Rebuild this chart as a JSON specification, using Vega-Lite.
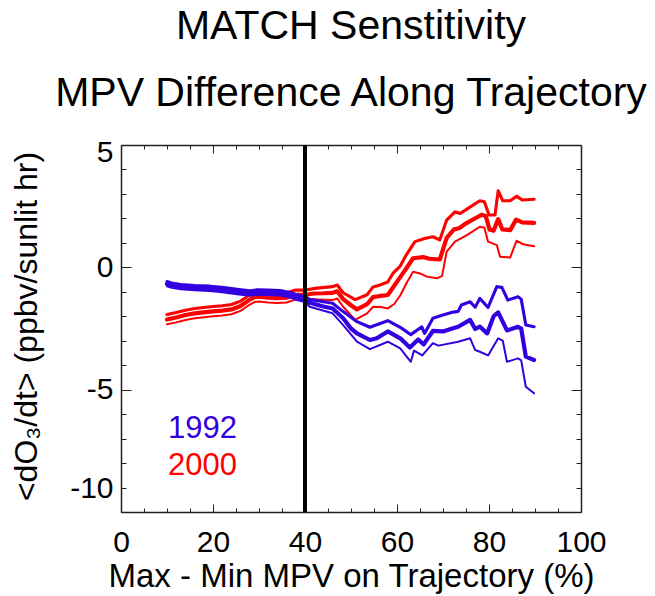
{
  "$schema": "https://vega.github.io/schema/vega-lite/v6.json",
  "width": 460,
  "height": 367,
  "autosize": {"type": "none"},
  "padding": {"left": 121, "top": 145, "right": 74, "bottom": 84},
  "background": "white",
  "title": {
    "text": ["MATCH Senstitivity", "MPV Difference Along Trajectory"],
    "fontSize": 41,
    "font": "Liberation Sans",
    "fontWeight": "normal",
    "color": "black",
    "lineHeight": 67,
    "anchor": "middle",
    "baseline": "alphabetic",
    "offset": -10
  },
  "config": {
    "view": {"stroke": null},
    "font": "Liberation Sans"
  },
  "datasets": {
    "lines": [
      {"g":"2000","b":"m","x":10,"y":-2.13},{"g":"2000","b":"m","x":12,"y":-2.05},{"g":"2000","b":"m","x":14,"y":-1.95},{"g":"2000","b":"m","x":16,"y":-1.88},{"g":"2000","b":"m","x":18,"y":-1.84},{"g":"2000","b":"m","x":20,"y":-1.8},{"g":"2000","b":"m","x":22,"y":-1.77},{"g":"2000","b":"m","x":24,"y":-1.72},{"g":"2000","b":"m","x":26,"y":-1.58},{"g":"2000","b":"m","x":27,"y":-1.45},{"g":"2000","b":"m","x":28,"y":-1.32},{"g":"2000","b":"m","x":29,"y":-1.22},{"g":"2000","b":"m","x":30,"y":-1.2},{"g":"2000","b":"m","x":32,"y":-1.24},{"g":"2000","b":"m","x":34,"y":-1.26},{"g":"2000","b":"m","x":36,"y":-1.24},{"g":"2000","b":"m","x":38,"y":-1.12},{"g":"2000","b":"m","x":40,"y":-1.12},{"g":"2000","b":"m","x":42,"y":-1.07},{"g":"2000","b":"m","x":44,"y":-1.06},{"g":"2000","b":"m","x":46,"y":-1.04},{"g":"2000","b":"m","x":47,"y":-0.98},{"g":"2000","b":"m","x":48.3,"y":-1.3},{"g":"2000","b":"m","x":50,"y":-1.55},{"g":"2000","b":"m","x":51.3,"y":-1.72},{"g":"2000","b":"m","x":53.5,"y":-1.5},{"g":"2000","b":"m","x":54.8,"y":-1.22},{"g":"2000","b":"m","x":56,"y":-1.18},{"g":"2000","b":"m","x":58,"y":-1.13},{"g":"2000","b":"m","x":59.4,"y":-0.75},{"g":"2000","b":"m","x":60.7,"y":-0.4},{"g":"2000","b":"m","x":62,"y":-0.05},{"g":"2000","b":"m","x":63.5,"y":0.37},{"g":"2000","b":"m","x":65.7,"y":0.42},{"g":"2000","b":"m","x":67,"y":0.35},{"g":"2000","b":"m","x":69.3,"y":0.32},{"g":"2000","b":"m","x":70.8,"y":1.2},{"g":"2000","b":"m","x":72.4,"y":1.55},{"g":"2000","b":"m","x":73.5,"y":1.6},{"g":"2000","b":"m","x":75.2,"y":1.82},{"g":"2000","b":"m","x":78.4,"y":2.15},{"g":"2000","b":"m","x":79.3,"y":2.1},{"g":"2000","b":"m","x":80.1,"y":1.55},{"g":"2000","b":"m","x":81,"y":1.5},{"g":"2000","b":"m","x":82,"y":1.97},{"g":"2000","b":"m","x":82.9,"y":1.55},{"g":"2000","b":"m","x":84.6,"y":1.52},{"g":"2000","b":"m","x":85.9,"y":1.95},{"g":"2000","b":"m","x":87.2,"y":1.84},{"g":"2000","b":"m","x":89.8,"y":1.82},

      {"g":"2000","b":"u","x":10,"y":-1.93},{"g":"2000","b":"u","x":12,"y":-1.85},{"g":"2000","b":"u","x":14,"y":-1.75},{"g":"2000","b":"u","x":16,"y":-1.68},{"g":"2000","b":"u","x":18,"y":-1.64},{"g":"2000","b":"u","x":20,"y":-1.6},{"g":"2000","b":"u","x":22,"y":-1.57},{"g":"2000","b":"u","x":24,"y":-1.52},{"g":"2000","b":"u","x":26,"y":-1.38},{"g":"2000","b":"u","x":27,"y":-1.25},{"g":"2000","b":"u","x":28,"y":-1.12},{"g":"2000","b":"u","x":29,"y":-1.02},{"g":"2000","b":"u","x":30,"y":-1.0},{"g":"2000","b":"u","x":32,"y":-1.04},{"g":"2000","b":"u","x":34,"y":-1.06},{"g":"2000","b":"u","x":36,"y":-1.04},{"g":"2000","b":"u","x":38,"y":-0.93},{"g":"2000","b":"u","x":40,"y":-0.93},{"g":"2000","b":"u","x":42.6,"y":-0.85},{"g":"2000","b":"u","x":46,"y":-0.79},{"g":"2000","b":"u","x":47,"y":-0.72},{"g":"2000","b":"u","x":48.3,"y":-1.04},{"g":"2000","b":"u","x":50.9,"y":-1.32},{"g":"2000","b":"u","x":53.5,"y":-1.12},{"g":"2000","b":"u","x":54.8,"y":-0.8},{"g":"2000","b":"u","x":56.3,"y":-0.72},{"g":"2000","b":"u","x":58,"y":-0.6},{"g":"2000","b":"u","x":59.1,"y":-0.25},{"g":"2000","b":"u","x":60.7,"y":0.05},{"g":"2000","b":"u","x":62,"y":0.5},{"g":"2000","b":"u","x":63.9,"y":1.05},{"g":"2000","b":"u","x":66,"y":1.18},{"g":"2000","b":"u","x":67.8,"y":1.25},{"g":"2000","b":"u","x":69.3,"y":1.12},{"g":"2000","b":"u","x":70.8,"y":1.93},{"g":"2000","b":"u","x":72.6,"y":2.27},{"g":"2000","b":"u","x":73.7,"y":2.2},{"g":"2000","b":"u","x":75.2,"y":2.38},{"g":"2000","b":"u","x":78,"y":2.72},{"g":"2000","b":"u","x":79,"y":2.68},{"g":"2000","b":"u","x":80,"y":2.14},{"g":"2000","b":"u","x":81.3,"y":2.14},{"g":"2000","b":"u","x":82,"y":3.13},{"g":"2000","b":"u","x":83,"y":2.72},{"g":"2000","b":"u","x":84.6,"y":2.72},{"g":"2000","b":"u","x":86,"y":2.91},{"g":"2000","b":"u","x":87.2,"y":2.75},{"g":"2000","b":"u","x":89.8,"y":2.78},

      {"g":"2000","b":"l","x":10,"y":-2.33},{"g":"2000","b":"l","x":12,"y":-2.25},{"g":"2000","b":"l","x":14,"y":-2.15},{"g":"2000","b":"l","x":16,"y":-2.08},{"g":"2000","b":"l","x":18,"y":-2.04},{"g":"2000","b":"l","x":20,"y":-2.0},{"g":"2000","b":"l","x":22,"y":-1.97},{"g":"2000","b":"l","x":24,"y":-1.92},{"g":"2000","b":"l","x":26,"y":-1.78},{"g":"2000","b":"l","x":27,"y":-1.65},{"g":"2000","b":"l","x":28,"y":-1.52},{"g":"2000","b":"l","x":29,"y":-1.42},{"g":"2000","b":"l","x":30,"y":-1.4},{"g":"2000","b":"l","x":32,"y":-1.44},{"g":"2000","b":"l","x":34,"y":-1.46},{"g":"2000","b":"l","x":36,"y":-1.44},{"g":"2000","b":"l","x":38,"y":-1.31},{"g":"2000","b":"l","x":40,"y":-1.29},{"g":"2000","b":"l","x":46,"y":-1.34},{"g":"2000","b":"l","x":47,"y":-1.27},{"g":"2000","b":"l","x":48.3,"y":-1.61},{"g":"2000","b":"l","x":50.9,"y":-2.15},{"g":"2000","b":"l","x":53.5,"y":-1.88},{"g":"2000","b":"l","x":54.8,"y":-1.61},{"g":"2000","b":"l","x":56.5,"y":-1.62},{"g":"2000","b":"l","x":58,"y":-1.68},{"g":"2000","b":"l","x":59.4,"y":-1.5},{"g":"2000","b":"l","x":60.7,"y":-1.15},{"g":"2000","b":"l","x":62.2,"y":-0.6},{"g":"2000","b":"l","x":63.5,"y":-0.18},{"g":"2000","b":"l","x":65,"y":-0.25},{"g":"2000","b":"l","x":66.5,"y":-0.38},{"g":"2000","b":"l","x":68.7,"y":-0.45},{"g":"2000","b":"l","x":69.8,"y":-0.35},{"g":"2000","b":"l","x":70.8,"y":0.64},{"g":"2000","b":"l","x":72.6,"y":1.05},{"g":"2000","b":"l","x":75.2,"y":1.32},{"g":"2000","b":"l","x":78,"y":1.66},{"g":"2000","b":"l","x":79,"y":1.62},{"g":"2000","b":"l","x":79.8,"y":1.05},{"g":"2000","b":"l","x":81.7,"y":0.91},{"g":"2000","b":"l","x":82.4,"y":0.43},{"g":"2000","b":"l","x":84.6,"y":0.4},{"g":"2000","b":"l","x":86,"y":1.09},{"g":"2000","b":"l","x":87.4,"y":0.94},{"g":"2000","b":"l","x":89.8,"y":0.86},

      {"g":"1992","b":"m","x":10,"y":-0.68},{"g":"1992","b":"m","x":11,"y":-0.74},{"g":"1992","b":"m","x":13,"y":-0.8},{"g":"1992","b":"m","x":16,"y":-0.84},{"g":"1992","b":"m","x":19.3,"y":-0.87},{"g":"1992","b":"m","x":22,"y":-0.92},{"g":"1992","b":"m","x":25.2,"y":-1.0},{"g":"1992","b":"m","x":28,"y":-1.06},{"g":"1992","b":"m","x":29.6,"y":-1.02},{"g":"1992","b":"m","x":32,"y":-1.03},{"g":"1992","b":"m","x":34.6,"y":-1.05},{"g":"1992","b":"m","x":36.7,"y":-1.13},{"g":"1992","b":"m","x":38,"y":-1.22},{"g":"1992","b":"m","x":39.6,"y":-1.31},{"g":"1992","b":"m","x":41,"y":-1.45},{"g":"1992","b":"m","x":44,"y":-1.6},{"g":"1992","b":"m","x":46,"y":-1.68},{"g":"1992","b":"m","x":48.3,"y":-2.08},{"g":"1992","b":"m","x":50,"y":-2.5},{"g":"1992","b":"m","x":51.3,"y":-2.7},{"g":"1992","b":"m","x":54.1,"y":-2.97},{"g":"1992","b":"m","x":55.6,"y":-2.9},{"g":"1992","b":"m","x":58,"y":-2.62},{"g":"1992","b":"m","x":60.7,"y":-2.9},{"g":"1992","b":"m","x":62.8,"y":-3.28},{"g":"1992","b":"m","x":64.6,"y":-2.95},{"g":"1992","b":"m","x":65.8,"y":-3.15},{"g":"1992","b":"m","x":67.8,"y":-2.6},{"g":"1992","b":"m","x":70,"y":-2.62},{"g":"1992","b":"m","x":72,"y":-2.5},{"g":"1992","b":"m","x":73.3,"y":-2.43},{"g":"1992","b":"m","x":75.9,"y":-2.15},{"g":"1992","b":"m","x":77,"y":-2.52},{"g":"1992","b":"m","x":78,"y":-2.42},{"g":"1992","b":"m","x":79.6,"y":-2.7},{"g":"1992","b":"m","x":81,"y":-2.0},{"g":"1992","b":"m","x":82,"y":-1.84},{"g":"1992","b":"m","x":83.9,"y":-2.58},{"g":"1992","b":"m","x":86.3,"y":-2.43},{"g":"1992","b":"m","x":87,"y":-2.5},{"g":"1992","b":"m","x":88,"y":-3.65},{"g":"1992","b":"m","x":89.8,"y":-3.79},

      {"g":"1992","b":"u","x":10,"y":-0.58},{"g":"1992","b":"u","x":11,"y":-0.64},{"g":"1992","b":"u","x":13,"y":-0.7},{"g":"1992","b":"u","x":16,"y":-0.74},{"g":"1992","b":"u","x":19.3,"y":-0.77},{"g":"1992","b":"u","x":22,"y":-0.82},{"g":"1992","b":"u","x":25.2,"y":-0.9},{"g":"1992","b":"u","x":28,"y":-0.96},{"g":"1992","b":"u","x":29.6,"y":-0.92},{"g":"1992","b":"u","x":32,"y":-0.93},{"g":"1992","b":"u","x":34.6,"y":-0.95},{"g":"1992","b":"u","x":36.7,"y":-1.03},{"g":"1992","b":"u","x":38,"y":-1.11},{"g":"1992","b":"u","x":40,"y":-1.2},{"g":"1992","b":"u","x":41,"y":-1.31},{"g":"1992","b":"u","x":46,"y":-1.47},{"g":"1992","b":"u","x":48.3,"y":-1.81},{"g":"1992","b":"u","x":51.3,"y":-2.22},{"g":"1992","b":"u","x":54.1,"y":-2.45},{"g":"1992","b":"u","x":58,"y":-2.18},{"g":"1992","b":"u","x":60.7,"y":-2.45},{"g":"1992","b":"u","x":63,"y":-2.75},{"g":"1992","b":"u","x":65.4,"y":-2.43},{"g":"1992","b":"u","x":66,"y":-2.7},{"g":"1992","b":"u","x":67.8,"y":-2.08},{"g":"1992","b":"u","x":70,"y":-1.95},{"g":"1992","b":"u","x":72.2,"y":-1.83},{"g":"1992","b":"u","x":73.3,"y":-1.8},{"g":"1992","b":"u","x":74,"y":-1.54},{"g":"1992","b":"u","x":75.9,"y":-1.41},{"g":"1992","b":"u","x":77,"y":-1.63},{"g":"1992","b":"u","x":78,"y":-1.27},{"g":"1992","b":"u","x":79.8,"y":-1.64},{"g":"1992","b":"u","x":81.7,"y":-0.79},{"g":"1992","b":"u","x":82.8,"y":-0.82},{"g":"1992","b":"u","x":84.1,"y":-1.34},{"g":"1992","b":"u","x":86.3,"y":-1.2},{"g":"1992","b":"u","x":87,"y":-1.3},{"g":"1992","b":"u","x":88,"y":-2.36},{"g":"1992","b":"u","x":89.8,"y":-2.43},

      {"g":"1992","b":"l","x":10,"y":-0.78},{"g":"1992","b":"l","x":11,"y":-0.84},{"g":"1992","b":"l","x":13,"y":-0.9},{"g":"1992","b":"l","x":16,"y":-0.94},{"g":"1992","b":"l","x":19.3,"y":-0.97},{"g":"1992","b":"l","x":22,"y":-1.02},{"g":"1992","b":"l","x":25.2,"y":-1.1},{"g":"1992","b":"l","x":28,"y":-1.16},{"g":"1992","b":"l","x":29.6,"y":-1.12},{"g":"1992","b":"l","x":32,"y":-1.13},{"g":"1992","b":"l","x":34.6,"y":-1.15},{"g":"1992","b":"l","x":36.7,"y":-1.23},{"g":"1992","b":"l","x":38,"y":-1.33},{"g":"1992","b":"l","x":40,"y":-1.42},{"g":"1992","b":"l","x":41,"y":-1.61},{"g":"1992","b":"l","x":46,"y":-1.88},{"g":"1992","b":"l","x":48.3,"y":-2.36},{"g":"1992","b":"l","x":51.3,"y":-3.04},{"g":"1992","b":"l","x":54.1,"y":-3.34},{"g":"1992","b":"l","x":58,"y":-3.04},{"g":"1992","b":"l","x":60.7,"y":-3.31},{"g":"1992","b":"l","x":63,"y":-3.86},{"g":"1992","b":"l","x":63.7,"y":-3.4},{"g":"1992","b":"l","x":65.5,"y":-3.6},{"g":"1992","b":"l","x":67.8,"y":-3.1},{"g":"1992","b":"l","x":69,"y":-3.2},{"g":"1992","b":"l","x":73.3,"y":-3.04},{"g":"1992","b":"l","x":75.9,"y":-2.9},{"g":"1992","b":"l","x":77,"y":-3.38},{"g":"1992","b":"l","x":78,"y":-3.45},{"g":"1992","b":"l","x":79.8,"y":-3.6},{"g":"1992","b":"l","x":82,"y":-2.9},{"g":"1992","b":"l","x":83,"y":-3.0},{"g":"1992","b":"l","x":83.9,"y":-3.86},{"g":"1992","b":"l","x":86.3,"y":-3.72},{"g":"1992","b":"l","x":87,"y":-3.8},{"g":"1992","b":"l","x":88,"y":-4.88},{"g":"1992","b":"l","x":89.8,"y":-5.15}
    ],
    "labels": [
      {"g":"1992","x":10.2,"y":-6.99},
      {"g":"2000","x":10.2,"y":-8.49}
    ],
    "marker": [
      {"x": 40}
    ]
  },
  "resolve": {"axis": {"x": "independent", "y": "independent"}},
  "layer": [
    {
      "data": {"name": "lines"},
      "mark": {"type": "line", "interpolate": "linear", "strokeCap": "round", "strokeJoin": "round"},
      "encoding": {
        "x": {
          "field": "x", "type": "quantitative",
          "scale": {"domain": [0, 100], "nice": false, "zero": false},
          "axis": {
            "orient": "bottom",
            "values": [0,5,10,15,20,25,30,35,40,45,50,55,60,65,70,75,80,85,90,95,100],
            "labelExpr": "datum.value % 20 === 0 ? datum.label : ''",
            "tickSize": {"condition": {"test": "datum.value % 20 === 0", "value": -8}, "value": -4},
            "tickColor": "#222", "tickWidth": 1,
            "domainColor": "#222", "domainWidth": 1.5,
            "grid": false,
            "labelFont": "Liberation Sans", "labelFontSize": 30, "labelColor": "black",
            "labelPadding": 23, "labelFlush": false, "labelOverlap": false,
            "title": "Max - Min MPV on Trajectory (%)",
            "titleFont": "Liberation Sans", "titleFontSize": 33, "titleFontWeight": "normal", "titleColor": "black",
            "titleBaseline": "alphabetic",
            "titleY": 74
          }
        },
        "y": {
          "field": "y", "type": "quantitative",
          "scale": {"domain": [-10, 5], "nice": false, "zero": false},
          "axis": {
            "orient": "left",
            "values": [-10,-9,-8,-7,-6,-5,-4,-3,-2,-1,0,1,2,3,4,5],
            "labelExpr": "datum.value % 5 === 0 ? '' + datum.value : ''",
            "tickSize": {"condition": {"test": "datum.value % 5 === 0", "value": -10}, "value": -5},
            "tickColor": "#222", "tickWidth": 1,
            "domainColor": "#222", "domainWidth": 1.5,
            "grid": false,
            "labelFont": "Liberation Sans", "labelFontSize": 30, "labelColor": "black",
            "labelPadding": 18, "labelFlush": false, "labelOverlap": false,
            "labelOffset": {"condition": [{"test": "datum.value === 5", "value": 7}, {"test": "datum.value === -10", "value": -24}], "value": 0},
            "title": "<dO₃/dt> (ppbv/sunlit hr)",
            "titleFont": "Liberation Sans", "titleFontSize": 32, "titleFontWeight": "normal", "titleColor": "black",
            "titleAngle": 270,
            "titleAlign": "center",
            "titleBaseline": "alphabetic",
            "titleX": -85,
            "titleY": 181
          }
        },
        "color": {
          "field": "g", "type": "nominal",
          "scale": {"domain": ["1992", "2000"], "range": ["#3300e0", "#ff0000"]},
          "legend": null
        },
        "detail": {"field": "b"},
        "strokeWidth": {
          "field": "b", "type": "nominal",
          "scale": {"domain": ["m", "u", "l"], "range": [4.2, 2, 2]},
          "legend": null
        }
      }
    },
    {
      "data": {"name": "marker"},
      "mark": {"type": "rule", "color": "black", "strokeWidth": 4},
      "encoding": {
        "x": {"field": "x", "type": "quantitative", "axis": null}
      }
    },
    {
      "data": {"name": "labels"},
      "mark": {"type": "text", "align": "left", "baseline": "alphabetic", "fontSize": 31, "font": "Liberation Sans"},
      "encoding": {
        "x": {"field": "x", "type": "quantitative", "axis": null},
        "y": {"field": "y", "type": "quantitative", "axis": null},
        "text": {"field": "g"},
        "color": {"field": "g", "type": "nominal", "legend": null}
      }
    },
    {
      "data": {"name": "lines"},
      "mark": {"type": "point", "opacity": 0},
      "encoding": {
        "x": {
          "field": "x", "type": "quantitative",
          "axis": {
            "orient": "top",
            "values": [0,5,10,15,20,25,30,35,40,45,50,55,60,65,70,75,80,85,90,95,100],
            "labels": false, "title": null, "grid": false,
            "tickSize": {"condition": {"test": "datum.value % 20 === 0", "value": -8}, "value": -4},
            "tickColor": "#222", "tickWidth": 1,
            "domainColor": "#222", "domainWidth": 1.5
          }
        },
        "y": {
          "field": "y", "type": "quantitative",
          "axis": {
            "orient": "right",
            "values": [-10,-9,-8,-7,-6,-5,-4,-3,-2,-1,0,1,2,3,4,5],
            "labels": false, "title": null, "grid": false,
            "tickSize": {"condition": {"test": "datum.value % 5 === 0", "value": -10}, "value": -5},
            "tickColor": "#222", "tickWidth": 1,
            "domainColor": "#222", "domainWidth": 1.5
          }
        }
      }
    }
  ]
}
